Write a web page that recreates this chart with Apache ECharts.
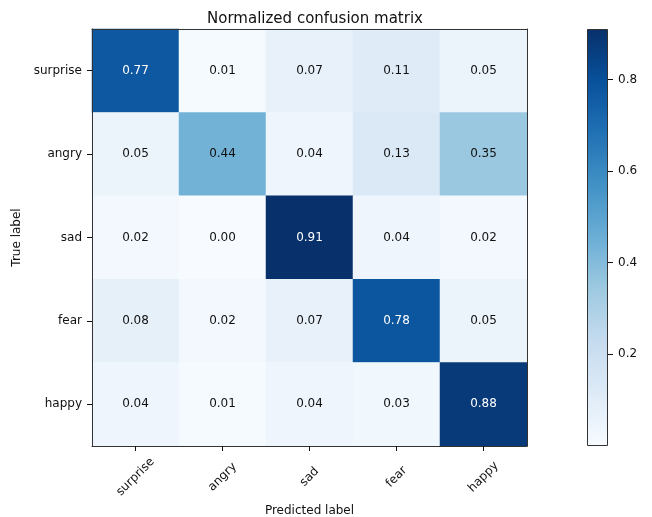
<!DOCTYPE html>
<html>
<head>
<meta charset="utf-8">
<title>Normalized confusion matrix</title>
<script src="https://cdn.jsdelivr.net/npm/echarts@6/dist/echarts.min.js"></script>
<style>
  html, body { margin: 0; padding: 0; background: #fff; }
  #chart { width: 652px; height: 517px; }
</style>
</head>
<body>
<div id="chart"></div>
<script>
// Class labels (rows = true label, columns = predicted label)
const classes = ['surprise', 'angry', 'sad', 'fear', 'happy'];

// Row-normalized confusion matrix values
const rowSurprise = [0.77, 0.01, 0.07, 0.11, 0.05];
const rowAngry    = [0.05, 0.44, 0.04, 0.13, 0.35];
const rowSad      = [0.02, 0.00, 0.91, 0.04, 0.02];
const rowFear     = [0.08, 0.02, 0.07, 0.78, 0.05];
const rowHappy    = [0.04, 0.01, 0.04, 0.03, 0.88];

// Colour bar range and tick labels
const scaleMin = 0;
const scaleMax = 0.91;
const colorbarTicks = [0.2, 0.4, 0.6, 0.8];

// "Blues" colour ramp, light to dark
const blues = ['#f7fbff', '#deebf7', '#c6dbef', '#9ecae1', '#6baed6',
               '#4292c6', '#2171b5', '#08519c', '#08306b'];

const rows = [rowSurprise, rowAngry, rowSad, rowFear, rowHappy];
const cells = [];
rows.forEach((row, r) => {
  row.forEach((v, c) => cells.push([c, r, v]));
});
const threshold = scaleMax / 2;

const font = 'DejaVu Sans';
const frame = '#333';

const chart = echarts.init(document.getElementById('chart'), null, { renderer: 'canvas' });

chart.setOption({
  animation: false,
  backgroundColor: '#fff',
  textStyle: { fontFamily: font },
  title: {
    text: 'Normalized confusion matrix',
    left: 310,
    top: 7,
    textAlign: 'center',
    textStyle: { fontFamily: font, fontSize: 15, fontWeight: 'normal', color: '#111' }
  },
  grid: [
    { left: 92, top: 29, width: 435, height: 417, containLabel: false, outerBoundsMode: 'none' },
    { left: 587, top: 29, width: 21, height: 417, containLabel: false, outerBoundsMode: 'none' }
  ],
  xAxis: [
    {
      type: 'category', gridIndex: 0, data: classes, position: 'bottom', z: 10,
      name: 'Predicted label', nameLocation: 'middle', nameGap: 55,
      nameTextStyle: { fontFamily: font, fontSize: 12, color: '#111' },
      axisLine: { show: true, lineStyle: { color: frame, width: 1 } },
      axisTick: { show: true, alignWithLabel: true, length: 5, lineStyle: { color: '#111' } },
      axisLabel: {
        rotate: 45, margin: 31, align: 'center', verticalAlign: 'middle',
        fontFamily: font, fontSize: 12, color: '#111', interval: 0
      },
      splitLine: { show: false }
    },
    {
      type: 'category', gridIndex: 0, data: classes, position: 'top', z: 10,
      axisLine: { show: true, lineStyle: { color: frame, width: 1 } },
      axisTick: { show: false }, axisLabel: { show: false }, splitLine: { show: false }
    },
    {
      type: 'category', gridIndex: 1, data: [''], show: false
    }
  ],
  yAxis: [
    {
      type: 'category', gridIndex: 0, data: classes, inverse: true, position: 'left', z: 10,
      name: 'True label', nameLocation: 'middle', nameGap: 59, nameRotate: 90,
      nameTextStyle: { fontFamily: font, fontSize: 12, color: '#111' },
      axisLine: { show: true, lineStyle: { color: frame, width: 1 } },
      axisTick: { show: true, alignWithLabel: true, length: 5, lineStyle: { color: '#111' } },
      axisLabel: { margin: 10, fontFamily: font, fontSize: 12, color: '#111', interval: 0 },
      splitLine: { show: false }
    },
    {
      type: 'category', gridIndex: 0, data: classes, inverse: true, position: 'right', z: 10,
      axisLine: { show: true, lineStyle: { color: frame, width: 1 } },
      axisTick: { show: false }, axisLabel: { show: false }, splitLine: { show: false }
    },
    {
      type: 'value', gridIndex: 1, position: 'right', min: scaleMin, max: scaleMax,
      interval: 0.2, z: 10,
      axisLine: { show: false },
      axisTick: { show: true, length: 5, lineStyle: { color: '#111' } },
      axisLabel: {
        margin: 10, fontFamily: font, fontSize: 12, color: '#111',
        showMinLabel: false, showMaxLabel: false,
        formatter: v => colorbarTicks.some(t => Math.abs(t - v) < 1e-6) ? v.toFixed(1) : ''
      },
      splitLine: { show: false }
    }
  ],
  visualMap: {
    show: false,
    type: 'continuous',
    seriesIndex: 0,
    min: scaleMin,
    max: scaleMax,
    inRange: { color: blues }
  },
  series: [
    {
      type: 'heatmap',
      xAxisIndex: 0,
      yAxisIndex: 0,
      data: cells.map(d => ({
        value: d,
        label: { color: d[2] > threshold ? '#fff' : '#111' }
      })),
      label: {
        show: true,
        fontFamily: font,
        fontSize: 12,
        formatter: p => p.value[2].toFixed(2)
      },
      emphasis: { disabled: true }
    },
    {
      // colour bar
      type: 'bar',
      xAxisIndex: 2,
      yAxisIndex: 2,
      data: [scaleMax],
      barWidth: '100%',
      silent: true,
      itemStyle: {
        borderColor: frame,
        borderWidth: 1,
        color: new echarts.graphic.LinearGradient(0, 0, 0, 1,
          blues.slice().reverse().map((c, i, arr) => ({ offset: i / (arr.length - 1), color: c })))
      }
    }
  ]
});
</script>
</body>
</html>
